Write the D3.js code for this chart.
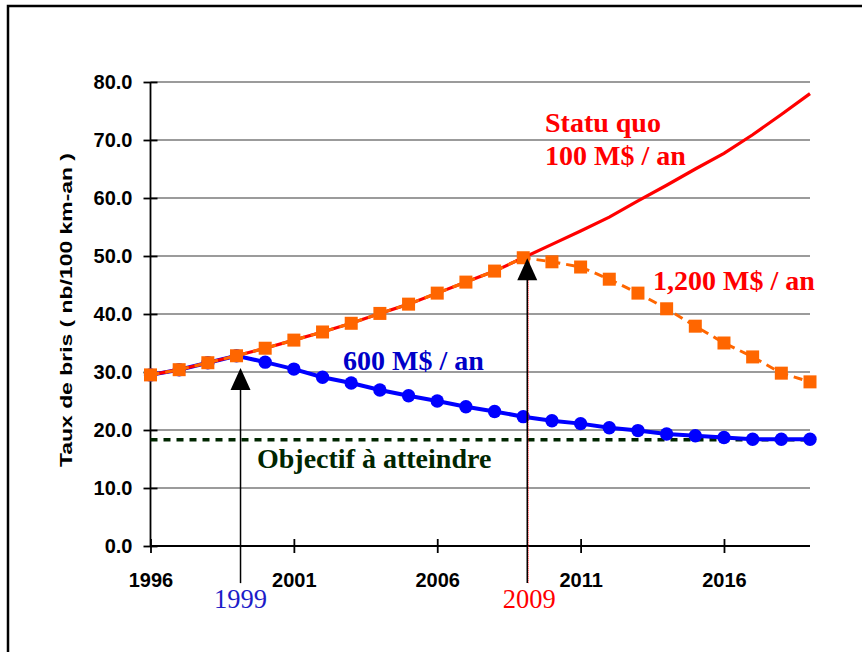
<!DOCTYPE html>
<html><head><meta charset="utf-8">
<script src="https://cdn.jsdelivr.net/npm/d3@7"></script>
<style>html,body{margin:0;padding:0;background:#fff}svg{display:block}</style>
</head><body>
<script>
const years = [1996,1997,1998,1999,2000,2001,2002,2003,2004,2005,2006,2007,2008,2009,2010,2011,2012,2013,2014,2015,2016,2017,2018,2019];
const statuQuo = [29.5,30.4,31.6,32.8,34.1,35.5,36.9,38.4,40.1,41.7,43.6,45.5,47.4,49.7,52.0,54.3,56.7,59.5,62.2,65.0,67.7,70.9,74.4,78.0];
const scenario1200 = [29.5,30.4,31.6,32.8,34.1,35.5,36.9,38.4,40.1,41.7,43.6,45.5,47.4,49.7,49.0,48.1,46.0,43.6,40.9,37.9,35.0,32.6,29.8,28.3];
const scenario600 = [29.5,30.4,31.6,32.8,31.7,30.5,29.1,28.1,26.9,25.9,25.0,24.0,23.2,22.3,21.6,21.1,20.4,19.9,19.3,19.0,18.7,18.4,18.4,18.4];
const objective = 18.3;
const yTicks = [0,10,20,30,40,50,60,70,80];
const xTicks = [1996,2001,2006,2011,2016];
const arrowYears = [1999, 2009];
const arrowTips = [30.7, 49.6];
const labels = {
  statu1: "Statu quo", statu2: "100 M$ / an", s1200: "1,200 M$ / an",
  s600: "600 M$ / an", obj: "Objectif à atteindre",
  yTitle: "Taux de bris ( nb/100 km-an )"
};

const W = 862, H = 652;
const svg = d3.select("body").append("svg").attr("width", W).attr("height", H);
svg.append("rect").attr("width", W).attr("height", H).attr("fill", "#fff");
// frame
svg.append("rect").attr("x", 8).attr("y", 6).attr("width", 900).attr("height", 700)
  .attr("fill", "none").attr("stroke", "#000").attr("stroke-width", 2.5);

const x = d3.scaleLinear().domain([1996, 2019]).range([150.5, 810]);
const y = d3.scaleLinear().domain([0, 80]).range([546, 82]);

const sans = "'Liberation Sans', Arial, sans-serif";
const serif = "'Liberation Serif', 'Times New Roman', serif";

// gridlines
svg.append("g").selectAll("line").data(yTicks.filter(d => d > 0)).join("line")
  .attr("x1", x(1996)).attr("x2", x(2019)).attr("y1", d => y(d)).attr("y2", d => y(d))
  .attr("stroke", "#7a7a7a").attr("stroke-width", 1.4);

// y axis
const gy = svg.append("g").attr("transform", `translate(${x(1996)},0)`)
  .call(d3.axisLeft(y).tickValues(yTicks).tickSize(7).tickPadding(11).tickFormat(d3.format(".1f")));
gy.select(".domain").attr("stroke", "#000").attr("stroke-width", 1.8).attr("d", `M0,${y(80)}V${y(0)}`);
gy.selectAll(".tick line").attr("stroke", "#000").attr("stroke-width", 1.8).attr("x2", 7).attr("x1", -7);
gy.selectAll(".tick text").attr("font-family", sans).attr("font-weight", "bold").attr("font-size", 20).attr("fill", "#000").attr("x", -18);

// x axis
const gx = svg.append("g").attr("transform", `translate(0,${y(0)})`)
  .call(d3.axisBottom(x).tickValues(xTicks).tickSize(7).tickFormat(d3.format("d")));
gx.select(".domain").attr("stroke", "#000").attr("stroke-width", 1.8).attr("d", `M${x(1996)},0H${x(2019)}`);
gx.selectAll(".tick line").attr("stroke", "#000").attr("stroke-width", 1.8).attr("y1", -7).attr("y2", 7);
gx.selectAll(".tick text").attr("font-family", sans).attr("font-weight", "bold").attr("font-size", 20).attr("fill", "#000").attr("y", 41).attr("dy", 0);

// y title
svg.append("text").attr("transform", `translate(72,310)rotate(-90)`)
  .attr("text-anchor", "middle").attr("font-family", sans).attr("font-weight", "bold").attr("font-size", 16.5)
  .attr("textLength", 314).attr("lengthAdjust", "spacingAndGlyphs").text(labels.yTitle);

// objective line
svg.append("line").attr("x1", x(1996)).attr("x2", x(2019)).attr("y1", y(objective)).attr("y2", y(objective))
  .attr("stroke", "#002600").attr("stroke-width", 3.5).attr("stroke-dasharray", "7,6");

const line = d3.line().x((d, i) => x(years[i])).y(d => y(d));

// 600 series
svg.append("path").datum(scenario600).attr("d", line).attr("fill", "none").attr("stroke", "#0000ff").attr("stroke-width", 4);
svg.append("g").selectAll("circle").data(scenario600).join("circle")
  .attr("cx", (d, i) => x(years[i])).attr("cy", d => y(d)).attr("r", 6.7).attr("fill", "#0000ff");

// statu quo
svg.append("path").datum(statuQuo).attr("d", line).attr("fill", "none").attr("stroke", "#ff0000").attr("stroke-width", 3.2);

// 1200 series
svg.append("path").datum(scenario1200).attr("d", line).attr("fill", "none").attr("stroke", "#ff6600").attr("stroke-width", 3)
  .attr("stroke-dasharray", "9,6");
svg.append("g").selectAll("rect").data(scenario1200).join("rect")
  .attr("x", (d, i) => x(years[i]) - 6.5).attr("y", d => y(d) - 6.5).attr("width", 13).attr("height", 13).attr("fill", "#ff6600");

// arrows
arrowYears.forEach((yr, i) => {
  const ax = x(yr) + 4;
  const tip = y(arrowTips[i]);
  const bottom = y(-6.4);
  if (i === 1) {
    svg.append("line").attr("x1", ax + 1.2).attr("x2", ax + 1.2).attr("y1", tip + 18).attr("y2", bottom)
      .attr("stroke", "#ff0000").attr("stroke-width", 0.8).attr("stroke-dasharray", "1,1");
  }
  svg.append("line").attr("x1", ax).attr("x2", ax).attr("y1", tip + 18).attr("y2", bottom)
    .attr("stroke", "#000").attr("stroke-width", 1.5);
  svg.append("path").attr("d", `M${ax},${tip}L${ax - 10},${tip + 22}L${ax + 10},${tip + 22}Z`).attr("fill", "#000");
});

// year labels
svg.append("text").attr("x", x(1999) + 4).attr("y", 608).attr("text-anchor", "middle")
  .attr("font-family", serif).attr("font-size", 26.5).attr("fill", "#1c1cc8").text("1999");
svg.append("text").attr("x", x(2009) + 6).attr("y", 608).attr("text-anchor", "middle")
  .attr("font-family", serif).attr("font-size", 26.5).attr("fill", "#ff0000").text("2009");

// series labels
const lab = (txt, xv, yv, col) => svg.append("text").attr("x", xv).attr("y", yv)
  .attr("font-family", serif).attr("font-weight", "bold").attr("font-size", 28).attr("fill", col).text(txt);
lab(labels.statu1, 545, 132, "#ff0000");
lab(labels.statu2, 545, 165, "#ff0000");
lab(labels.s1200, 653, 290, "#ff0000");
lab(labels.s600, 343, 370, "#0000c8");
lab(labels.obj, 257, 468, "#002600");
</script>
</body></html>
